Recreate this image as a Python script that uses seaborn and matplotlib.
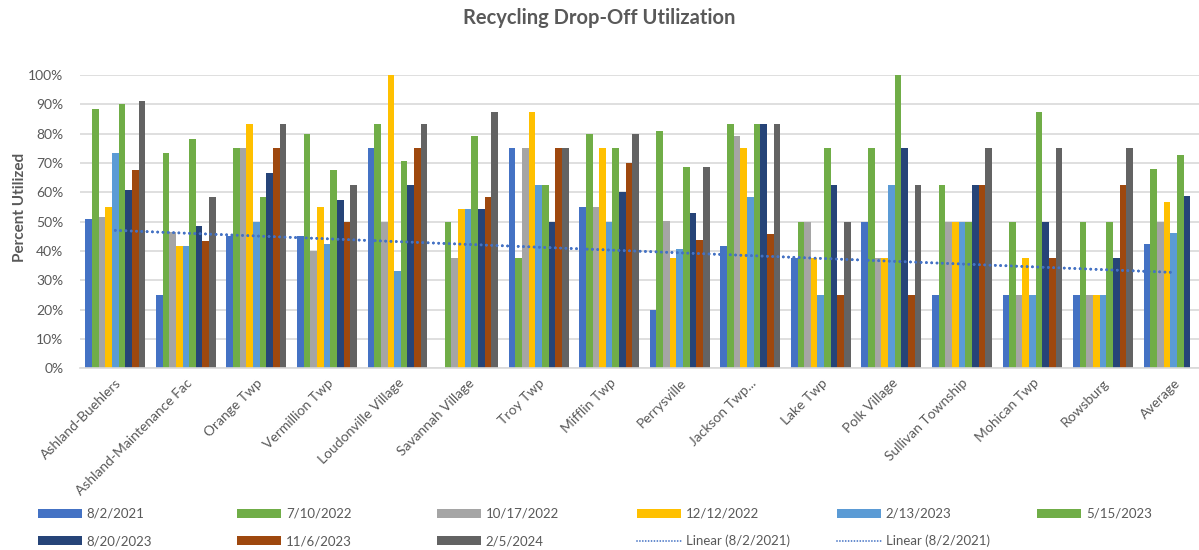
import numpy as np
import pandas as pd
import matplotlib
matplotlib.use("Agg")
import matplotlib.pyplot as plt
import seaborn as sns

sites = [
    "Ashland-Buehlers", "Ashland-Maintenance Fac", "Orange Twp", "Vermillion Twp",
    "Loudonville Village", "Savannah Village", "Troy Twp", "Mifflin Twp",
    "Perrysville", "Jackson Twp...", "Lake Twp", "Polk Village",
    "Sullivan Township", "Mohican Twp", "Rowsburg", "Average",
]
dates = ["8/2/2021", "7/10/2022", "10/17/2022", "12/12/2022", "2/13/2023",
         "5/15/2023", "8/20/2023", "11/6/2023", "2/5/2024"]

# percent utilized per visit date (NaN = not visible in the chart)
util_2021_08_02 = [51, 25, 45, 45, 75, 0, 75, 55, 20, 41.7, 37.5, 50, 25, 25, 25, 42.5]
util_2022_07_10 = [88.3, 73.3, 75, 80, 83.3, 50, 37.5, 80, 81, 83.3, 50, 75, 62.5, 50, 50, 67.8]
util_2022_10_17 = [51.7, 46.4, 75, 40, 50, 37.5, 75, 55, 50.2, 79.2, 50, 37.5, 50, 25, 25, 49.8]
util_2022_12_12 = [55, 41.7, 83.3, 55, 100, 54.2, 87.5, 75, 37.5, 75, 37.5, 37.5, 50, 37.5, 25, 56.7]
util_2023_02_13 = [73.3, 41.7, 50, 42.5, 33.3, 54.2, 62.5, 50, 40.6, 58.3, 25, 62.5, 50, 25, 25, 46.3]
util_2023_05_15 = [90, 78.3, 58.5, 67.6, 70.8, 79.2, 62.5, 75, 68.6, 83.3, 75, 100, 50, 87.5, 50, 72.8]
util_2023_08_20 = [60.8, 48.4, 66.5, 57.4, 62.5, 54.2, 50, 60, 53, 83.3, 62.5, 75, 62.5, 50, 37.5, 58.9]
util_2023_11_06 = [67.6, 43.3, 75, 50, 75, 58.5, 75, 70, 43.9, 45.8, 25, 25, 62.5, 37.5, 62.5, np.nan]
util_2024_02_05 = [91.3, 58.5, 83.3, 62.5, 83.3, 87.5, 75, 80, 68.6, 83.3, 50, 62.5, 75, 75, 75, np.nan]

series = [util_2021_08_02, util_2022_07_10, util_2022_10_17, util_2022_12_12, util_2023_02_13,
          util_2023_05_15, util_2023_08_20, util_2023_11_06, util_2024_02_05]
colors = ["#4472C4", "#70AD47", "#A5A5A5", "#FFC000", "#5B9BD5",
          "#70AD47", "#264478", "#9E480E", "#636363"]

rows = []
for d, vals in zip(dates, series):
    for s, v in zip(sites, vals):
        rows.append({"site": s, "date": d, "value": v})
df = pd.DataFrame(rows)

sns.set_theme(style="white")
plt.rcParams["font.family"] = ["Lato", "DejaVu Sans"]
TXT = "#595959"
GRID = "#D9D9D9"

W, H = 1199, 550
fig = plt.figure(figsize=(W / 100, H / 100), dpi=100)
ax = fig.add_axes([80 / W, 1 - 368.3 / H, (W - 80) / W, (368.3 - 75) / H])

sns.barplot(data=df, x="site", y="value", hue="date", order=sites, hue_order=dates,
            palette=dict(zip(dates, colors)), width=0.85, gap=0, saturation=1,
            linewidth=0, errorbar=None, ax=ax)
bar_handles, bar_labels = ax.get_legend_handles_labels()
ax.get_legend().remove()

# linear trendline of the first visit (Excel adds it twice)
xs = np.arange(len(sites))
slope, icpt = np.polyfit(xs, util_2021_08_02, 1)
trend_handles = []
for _ in range(2):
    ln, = ax.plot(xs, slope * xs + icpt, color="#4472C4", lw=2.0,
                  linestyle=(0, (0.01, 1.9)), dash_capstyle="round")
    trend_handles.append(ln)

ax.set_xlim(-0.5, 15.36)
ax.set_ylim(0, 100)
ax.set_yticks(range(0, 101, 10))
ax.set_yticklabels([f"{t}%" for t in range(0, 101, 10)])
ax.yaxis.grid(True, color=GRID, lw=1.2)
ax.set_axisbelow(True)
for sp in ["left", "right", "top"]:
    ax.spines[sp].set_visible(False)
ax.spines["bottom"].set_color(GRID)
ax.spines["bottom"].set_linewidth(1.2)
ax.set_xlabel("")
ax.set_ylabel("")
ax.tick_params(axis="y", length=0, pad=12, labelsize=10, labelcolor=TXT)
ax.tick_params(axis="x", length=0, pad=6, labelsize=10, labelcolor=TXT)
ax.set_xticks(xs)
ax.set_xticklabels(sites, rotation=45, ha="right", va="top", rotation_mode="anchor")

fig.text(0.5, 1 - 18 / H, "Recycling Drop-Off Utilization", ha="center", va="center",
         fontsize=14.5, weight="bold", color=TXT)
fig.text(20 / W, 1 - 207 / H, "Percent Utilized", rotation=90, ha="center", va="center",
         fontsize=11, weight="bold", color=TXT)

# Excel-style bottom legend: 6 evenly spaced columns, 2 rows
trend_legend = []
for h in trend_handles:
    proxy, = ax.plot([], [], color="#4472C4", lw=1.3, linestyle=(0, (0.01, 1.6)),
                     dash_capstyle="round")
    trend_legend.append(proxy)
handles = list(bar_handles) + trend_legend
labels = list(bar_labels) + ["Linear (8/2/2021)", "Linear (8/2/2021)"]
col_x = [38, 237, 437, 637, 837, 1037]
row_y = [514, 541]
for i, (h, l) in enumerate(zip(handles, labels)):
    r, c = divmod(i, 6)
    fig.legend(handles=[h], labels=[l], loc="center left",
               bbox_to_anchor=(col_x[c] / W, 1 - row_y[r] / H), frameon=False,
               borderpad=0, borderaxespad=0, handlelength=3.3, handleheight=0.65,
               handletextpad=0.4, fontsize=9.5, labelcolor=TXT)

fig.savefig("out.png", dpi=100)
